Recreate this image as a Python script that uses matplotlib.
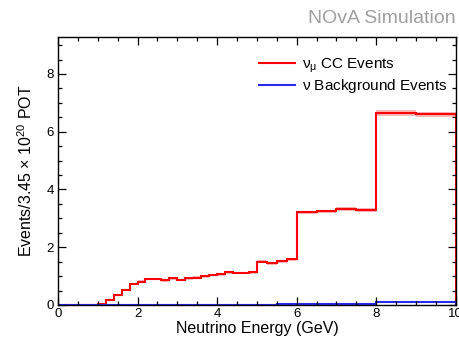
import numpy as np
import matplotlib
matplotlib.use("Agg")
import matplotlib.pyplot as plt
from matplotlib.ticker import MultipleLocator

plt.rcParams['font.family'] = ['Liberation Sans', 'DejaVu Sans']
plt.rcParams['mathtext.fontset'] = 'custom'
plt.rcParams['mathtext.rm'] = 'Liberation Sans'
plt.rcParams['mathtext.it'] = 'Liberation Sans:italic'

# Bin edges (GeV)
edges = [0.0, 0.2, 0.4, 0.6, 0.8, 1.0, 1.2, 1.4, 1.6, 1.8, 2.0, 2.2, 2.4, 2.6, 2.8,
         3.0, 3.2, 3.4, 3.6, 3.8, 4.0, 4.2, 4.4, 4.6, 4.8, 5.0,
         5.25, 5.5, 5.75, 6.0, 6.5, 7.0, 7.5, 8.0, 9.0, 10.0]

numu_cc = [0.0, 0.0, 0.0, 0.0, 0.0, 0.03, 0.17, 0.36, 0.52, 0.73,
           0.81, 0.89, 0.90, 0.85, 0.92, 0.87, 0.92, 0.95, 0.99, 1.04,
           1.06, 1.13, 1.10, 1.11, 1.13,
           1.50, 1.45, 1.52, 1.58,
           3.21, 3.24, 3.32, 3.29,
           6.65, 6.60]
numu_err = [0.0, 0.0, 0.0, 0.0, 0.0, 0.01, 0.02, 0.03, 0.03, 0.04,
            0.04, 0.04, 0.04, 0.04, 0.04, 0.04, 0.04, 0.04, 0.04, 0.04,
            0.04, 0.04, 0.04, 0.04, 0.04,
            0.05, 0.05, 0.05, 0.05,
            0.06, 0.06, 0.06, 0.06,
            0.09, 0.09]

background = [0.005] * 25 + [0.012, 0.015, 0.018, 0.02,
                             0.035, 0.04, 0.045, 0.05,
                             0.09, 0.09]
bkg_err = [0.002] * 25 + [0.006] * 4 + [0.01] * 4 + [0.025, 0.025]

xticks = [0, 2, 4, 6, 8, 10]
yticks = [0, 2, 4, 6, 8]

edges_a = np.array(edges)
cc = np.array(numu_cc)
cce = np.array(numu_err)
bk = np.array(background)
bke = np.array(bkg_err)

fig = plt.figure(figsize=(4.6, 3.44), dpi=100)
ax = fig.add_axes([0.126, 0.1134, 0.865, 0.779])

ax.stairs(cc + cce, edges_a, baseline=cc - cce, fill=True, color='#f4a6a6', alpha=0.8, lw=0)
ax.stairs(cc, edges_a, color='red', lw=1.5, label=r'$\mathrm{\nu_{\mu}}$ CC Events')
ax.stairs(bk + bke, edges_a, baseline=np.maximum(bk - bke, 0), fill=True, color='#9999ee', alpha=0.8, lw=0)
ax.stairs(bk, edges_a, color='#2a2aee', lw=1.5, label=r'$\mathrm{\nu}$ Background Events')

ax.set_xlim(0, 10)
ax.set_ylim(0, 9.28)
ax.set_xticks(xticks)
ax.set_yticks(yticks)
ax.xaxis.set_minor_locator(MultipleLocator(0.5))
ax.yaxis.set_minor_locator(MultipleLocator(0.5))
ax.tick_params(which='both', direction='in', top=True, right=True, labelsize=9.5, width=0.9)
ax.tick_params(which='major', length=6)
ax.tick_params(which='minor', length=3)
ax.tick_params(axis='x', pad=2)
ax.tick_params(axis='y', pad=3)
for s in ax.spines.values():
    s.set_linewidth(1.0)

ax.set_xlabel('Neutrino Energy (GeV)', fontsize=11.5, labelpad=1)
ax.set_ylabel(r'Events/3.45 $\times$ 10$^{20}$ POT', fontsize=11.5, labelpad=8)

ax.legend(loc='upper right', bbox_to_anchor=(0.995, 0.95), frameon=False, fontsize=11,
          handlelength=2.3, handletextpad=0.5, labelspacing=0.15, borderaxespad=0.0)

fig.text(0.99, 0.945, 'NOvA Simulation', ha='right', va='center', color='#a0a0a0', fontsize=14)

fig.savefig('out.png', dpi=100)
